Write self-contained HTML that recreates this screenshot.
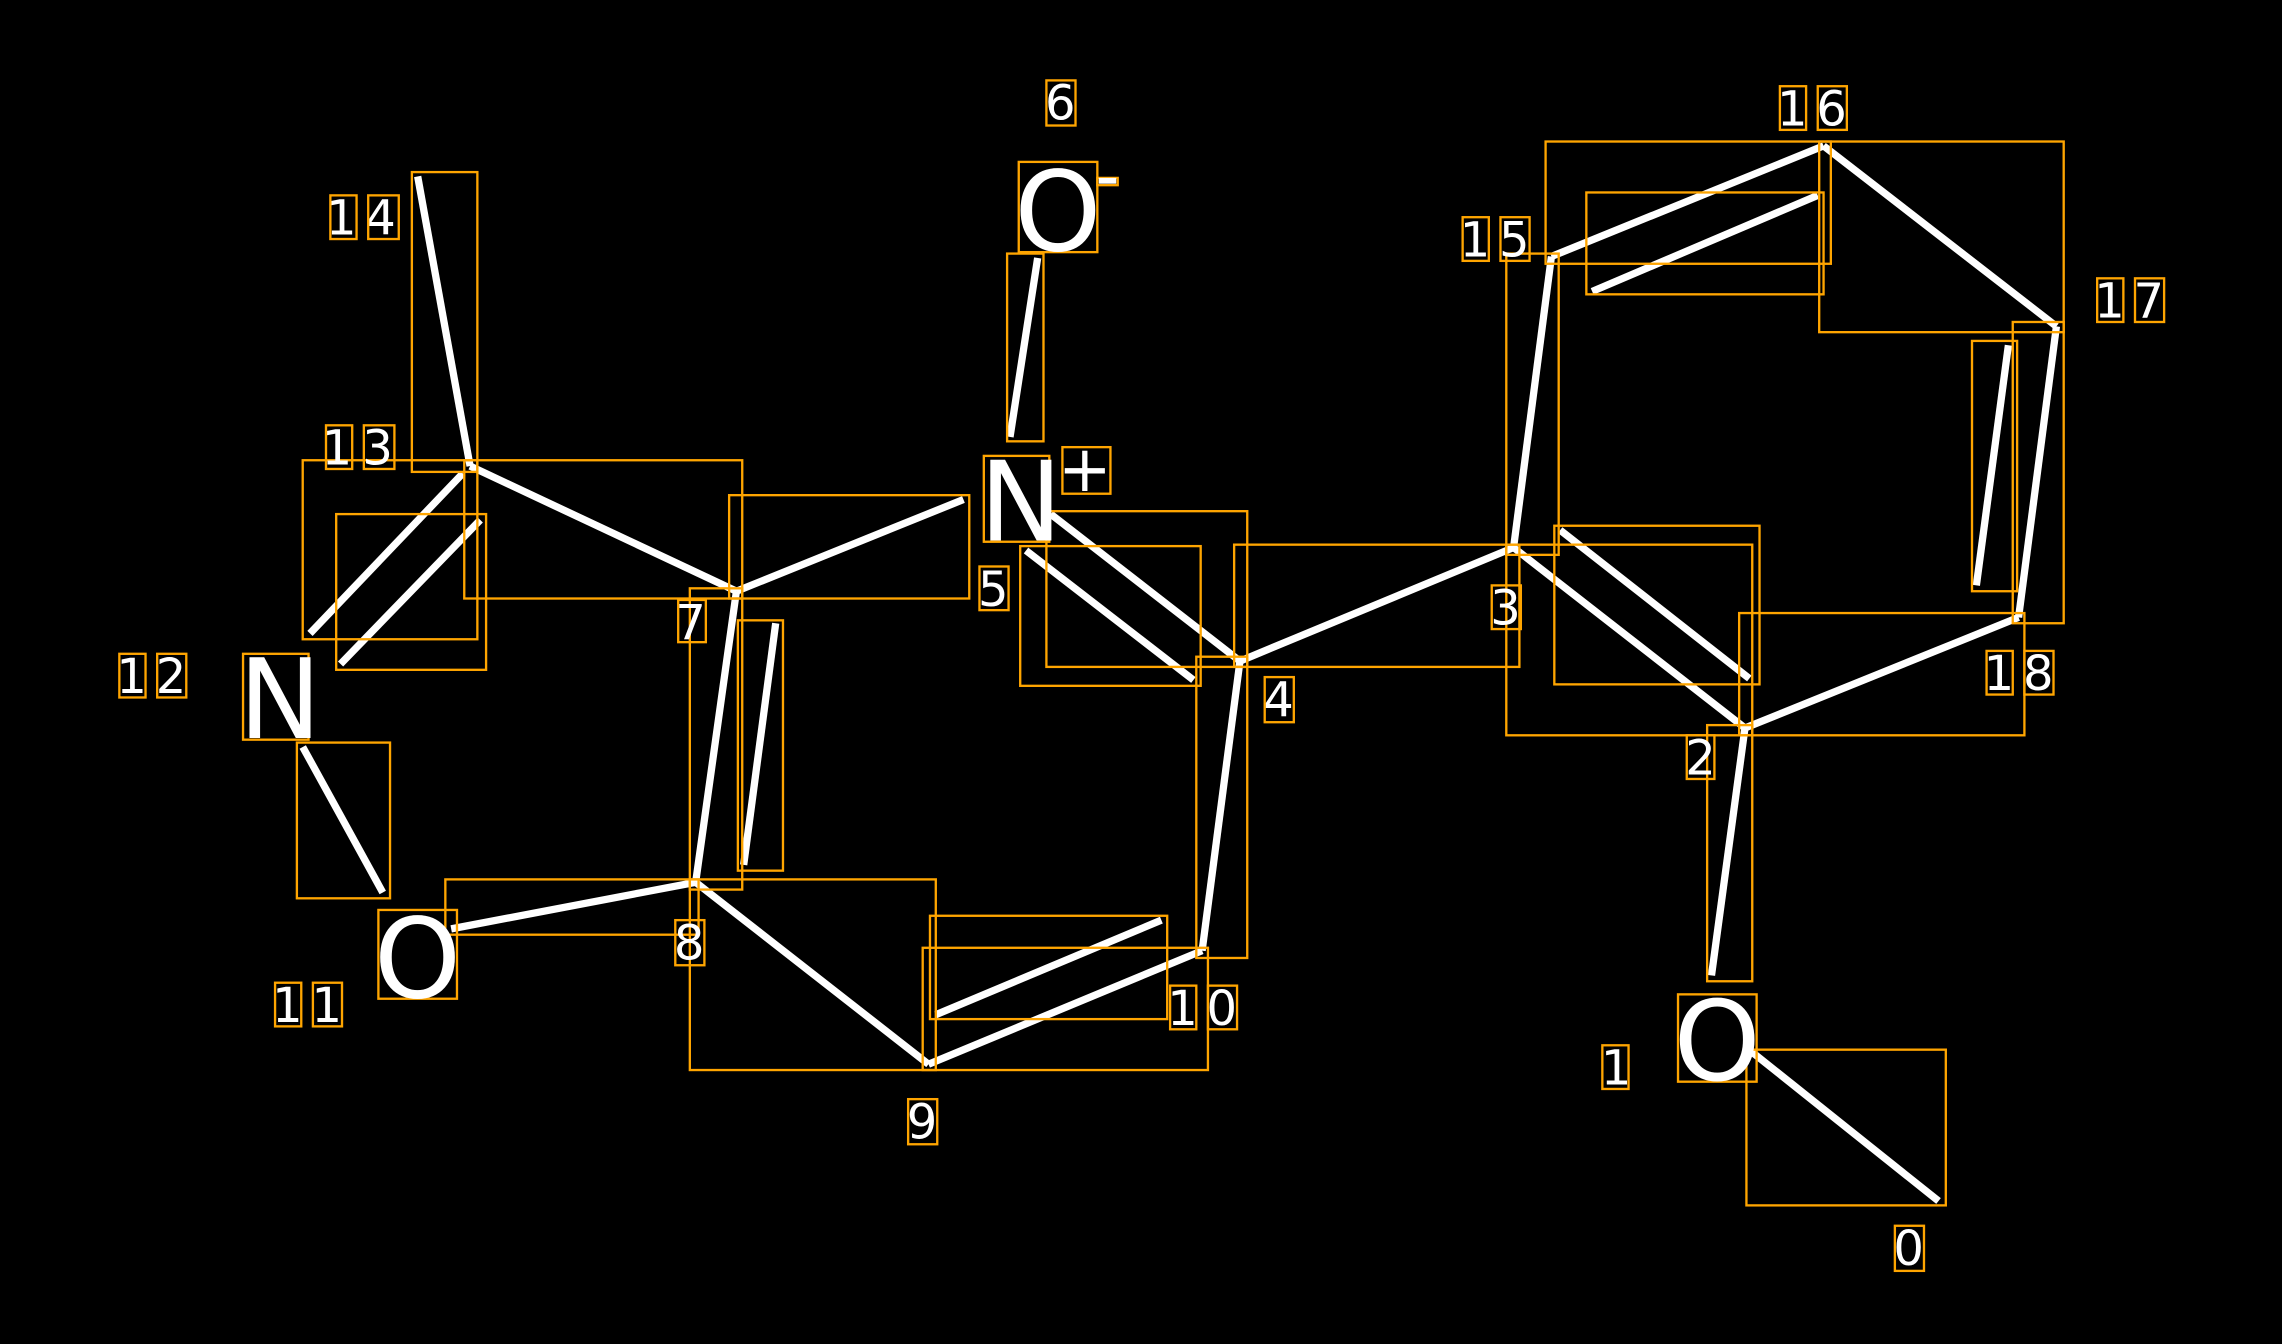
<!DOCTYPE html>
<html><head><meta charset="utf-8"><style>
html,body{margin:0;padding:0;background:#000;width:2282px;height:1344px;overflow:hidden}
svg{display:block}
text{font-family:"DejaVu Sans","Liberation Sans",sans-serif;fill:#fff}
.b{stroke:#fff;stroke-width:5;stroke-linecap:butt}
.r{fill:none;stroke:#FFA500;stroke-width:1.6}
</style></head><body>
<svg width="2282" height="1344" viewBox="0 0 1568 923" xmlns="http://www.w3.org/2000/svg">
<rect width="1568" height="923" fill="#000"/>
<g class="b">
<line x1="287" y1="121" x2="323" y2="320"/>
<line x1="213" y1="435" x2="318" y2="325"/>
<line x1="234" y1="456" x2="330" y2="357"/>
<line x1="323" y1="320" x2="506" y2="406"/>
<line x1="506" y1="406" x2="662" y2="343"/>
<line x1="694" y1="300" x2="713" y2="177"/>
<line x1="506" y1="406" x2="478" y2="606"/>
<line x1="533" y1="428" x2="511" y2="594"/>
<line x1="478" y1="606" x2="310" y2="638"/>
<line x1="208" y1="513" x2="263" y2="613"/>
<line x1="478" y1="606" x2="638" y2="731"/>
<line x1="638" y1="731" x2="826" y2="653"/>
<line x1="643" y1="697" x2="798" y2="632"/>
<line x1="826" y1="653" x2="852" y2="454"/>
<line x1="852" y1="454" x2="722" y2="353"/>
<line x1="820" y1="467" x2="705" y2="378"/>
<line x1="852" y1="454" x2="1040" y2="376"/>
<line x1="1040" y1="376" x2="1066" y2="176"/>
<line x1="1066" y1="176" x2="1253" y2="100"/>
<line x1="1094" y1="200" x2="1249" y2="134"/>
<line x1="1253" y1="100" x2="1413" y2="224"/>
<line x1="1413" y1="224" x2="1387" y2="424"/>
<line x1="1380" y1="237" x2="1358" y2="402"/>
<line x1="1387" y1="424" x2="1199" y2="500"/>
<line x1="1199" y1="500" x2="1040" y2="376"/>
<line x1="1202" y1="466" x2="1072" y2="364"/>
<line x1="1199" y1="500" x2="1176" y2="670"/>
<line x1="1203" y1="722" x2="1332" y2="825"/>
</g>
<g class="r">
<rect x="283" y="118" width="45" height="206"/>
<rect x="208" y="316" width="120" height="123"/>
<rect x="231" y="353" width="103" height="107"/>
<rect x="319" y="316" width="191" height="95"/>
<rect x="501" y="340" width="165" height="71"/>
<rect x="692" y="174" width="25" height="129"/>
<rect x="474" y="404" width="36" height="207"/>
<rect x="507" y="426" width="31" height="172"/>
<rect x="306" y="604" width="174" height="38"/>
<rect x="204" y="510" width="64" height="107"/>
<rect x="474" y="604" width="169" height="131"/>
<rect x="634" y="651" width="196" height="84"/>
<rect x="639" y="629" width="163" height="71"/>
<rect x="822" y="451" width="35" height="207"/>
<rect x="719" y="351" width="138" height="107"/>
<rect x="701" y="375" width="124" height="96"/>
<rect x="848" y="374" width="196" height="84"/>
<rect x="1035" y="174" width="36" height="207"/>
<rect x="1062" y="97" width="196" height="84"/>
<rect x="1090" y="132" width="163" height="70"/>
<rect x="1250" y="97" width="168" height="131"/>
<rect x="1383" y="221" width="35" height="207"/>
<rect x="1355" y="234" width="31" height="172"/>
<rect x="1195" y="421" width="196" height="84"/>
<rect x="1035" y="374" width="169" height="131"/>
<rect x="1068" y="361" width="141" height="109"/>
<rect x="1173" y="498" width="31" height="176"/>
<rect x="1200" y="721" width="137" height="107"/>
<rect x="700" y="111" width="54" height="62"/>
<rect x="754" y="122" width="14" height="5"/>
<rect x="676" y="313" width="45" height="59"/>
<rect x="730" y="307" width="33" height="32"/>
<rect x="167" y="449" width="45" height="59"/>
<rect x="260" y="625" width="54" height="61"/>
<rect x="1153" y="683" width="54" height="60"/>
</g>
<g font-size="76">
<text x="697" y="172">O</text>
<text x="673" y="371">N</text>
<text x="164" y="507">N</text>
<text x="257" y="685">O</text>
<text x="1150" y="742">O</text>
</g>
<rect x="755" y="122" width="12" height="4" fill="#fff"/>
<text x="727" y="337" font-size="44">+</text>
<g font-size="33">
<text x="718" y="82">6</text>
<text x="224" y="161">1</text><text x="251" y="161">4</text>
<text x="221" y="319">1</text><text x="249" y="319">3</text>
<text x="80" y="476">1</text><text x="107" y="476">2</text>
<text x="187" y="702">1</text><text x="214" y="702">1</text>
<text x="464" y="439">7</text>
<text x="463" y="659">8</text>
<text x="623" y="782">9</text>
<text x="672" y="416">5</text>
<text x="802" y="704">1</text><text x="829" y="704">0</text>
<text x="868" y="492">4</text>
<text x="1024" y="429">3</text>
<text x="1003" y="176">1</text><text x="1030" y="176">5</text>
<text x="1221" y="86">1</text><text x="1248" y="86">6</text>
<text x="1439" y="218">1</text><text x="1466" y="218">7</text>
<text x="1363" y="474">1</text><text x="1390" y="474">8</text>
<text x="1158" y="532">2</text>
<text x="1100" y="745">1</text>
<text x="1301" y="869">0</text>
</g>
<g class="r">
<rect x="719" y="55" width="20" height="31"/>
<rect x="227" y="134" width="18" height="30"/><rect x="253" y="134" width="21" height="30"/>
<rect x="224" y="292" width="18" height="30"/><rect x="250" y="292" width="21" height="30"/>
<rect x="82" y="449" width="18" height="30"/><rect x="108" y="449" width="20" height="30"/>
<rect x="189" y="675" width="18" height="30"/><rect x="215" y="675" width="20" height="30"/>
<rect x="466" y="412" width="19" height="29"/>
<rect x="464" y="632" width="20" height="31"/>
<rect x="624" y="755" width="20" height="31"/>
<rect x="673" y="389" width="20" height="30"/>
<rect x="804" y="677" width="18" height="30"/><rect x="830" y="677" width="20" height="30"/>
<rect x="869" y="465" width="20" height="31"/>
<rect x="1025" y="402" width="20" height="30"/>
<rect x="1005" y="149" width="18" height="30"/><rect x="1031" y="149" width="20" height="30"/>
<rect x="1223" y="59" width="18" height="30"/><rect x="1249" y="59" width="20" height="30"/>
<rect x="1441" y="191" width="18" height="30"/><rect x="1467" y="191" width="20" height="30"/>
<rect x="1365" y="447" width="18" height="30"/><rect x="1391" y="447" width="20" height="30"/>
<rect x="1159" y="505" width="19" height="30"/>
<rect x="1101" y="718" width="18" height="30"/>
<rect x="1302" y="842" width="20" height="31"/>
</g>
</svg>
</body></html>
